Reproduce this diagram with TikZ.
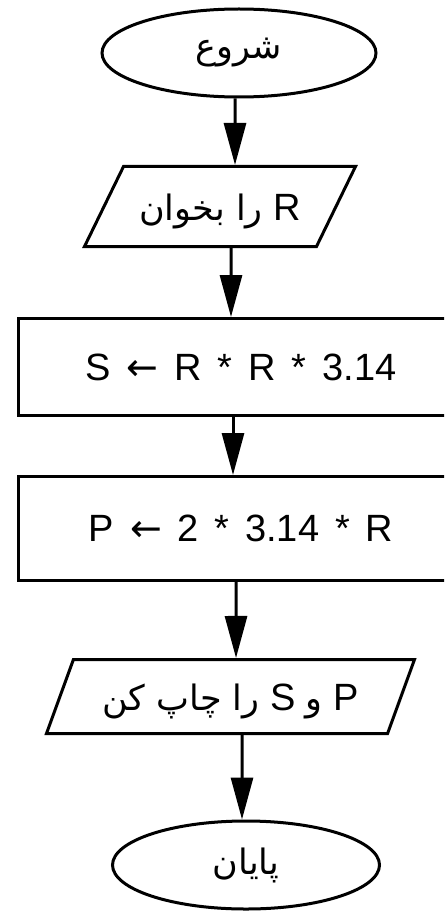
\documentclass[tikz,border=0pt]{standalone}
\usepackage{fontspec}
\setmainfont{Liberation Sans}
\newfontfamily\formulafont[WordSpace=1.5]{Liberation Sans}
\newfontfamily\arabicfont[Script=Arabic,Scale=0.92]{DejaVu Sans}
\newfontfamily\symbolfont{DejaVu Sans}
\TeXXeTstate=1
\usetikzlibrary{shapes.geometric,arrows.meta}
\begin{document}
\begin{tikzpicture}[x=1pt,y=-1pt,line width=3pt,
    terminal/.style={draw,ellipse,inner sep=0pt,minimum width=#1,minimum height=88pt},
    io/.style={draw,trapezium,trapezium stretches body,inner xsep=0pt,
        text height=27pt,text depth=0pt},
    process/.style={draw,rectangle,inner sep=0pt,minimum width=446pt,
        font=\fontsize{38}{40}\formulafont},
    flow/.style={-{Triangle[length=42pt,width=22pt]}},
    font=\fontsize{38}{40}\selectfont]
    \useasboundingbox (0,0) rectangle (444,912);
    \clip (0,0) rectangle (444,912);

    % Nodes
    \node[terminal=274pt] (start) at (239,53) {\arabicfont\beginR شروع\endR};
    \node[io,trapezium left angle=64,trapezium right angle=116,
          inner ysep=26.5pt,minimum width=271pt] (read) at (220,206.5)
          {\beginR R {\arabicfont را بخوان}\endR};
    \node[process,minimum height=97pt] (area) at (241,367)
          {S {\symbolfont ←} R * R * 3.14};
    \node[process,minimum height=104pt] (perim) at (241,528.5)
          {P {\symbolfont ←} 2 * 3.14 * R};
    \node[io,trapezium left angle=70,trapezium right angle=110,
          inner ysep=23.5pt,minimum width=368pt] (print) at (230.5,696.5)
          {\beginR P {\arabicfont و} S {\arabicfont را چاپ کن}\endR};
    \node[terminal=267pt] (stop) at (246,865) {\arabicfont\beginR پایان\endR};

    % Arrows
    \draw[flow] ([xshift=-4pt]start.south) -- ([xshift=15pt]read.north);
    \draw[flow] ([xshift=11pt]read.south) -- ([xshift=-10pt]area.north);
    \draw[flow] ([xshift=-8pt]area.south) -- ([xshift=-8pt]perim.north);
    \draw[flow] ([xshift=-5pt]perim.south) -- ([xshift=5.5pt]print.north);
    \draw[flow] ([xshift=11.5pt]print.south) -- ([xshift=-4pt]stop.north);
\end{tikzpicture}
\end{document}
